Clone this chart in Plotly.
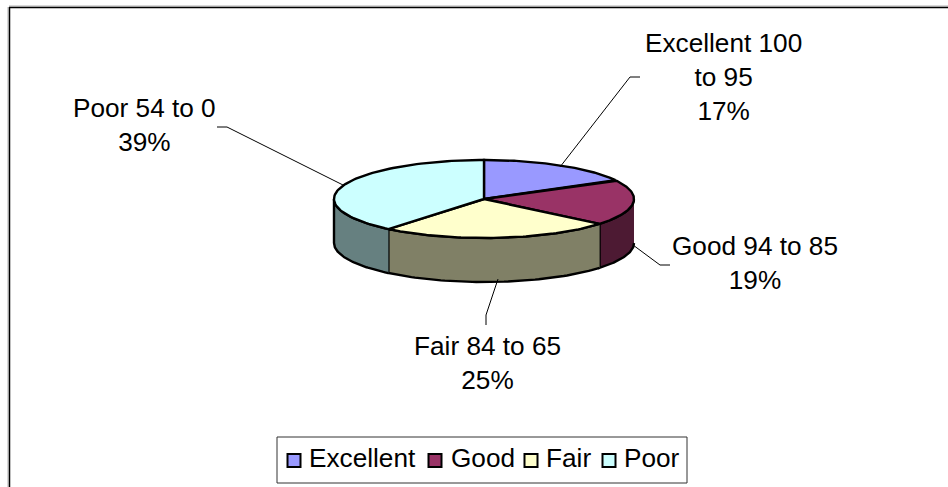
import numpy as np
import plotly.graph_objects as go

categories = ["Excellent", "Good", "Fair", "Poor"]
values = [17, 19, 25, 39]
label_lines = ["Excellent 100<br>to 95<br>17%", "Good 94 to 85<br>19%", "Fair 84 to 65<br>25%", "Poor 54 to 0<br>39%"]
top_colors = ["#9999FF", "#993366", "#FFFFCC", "#CCFFFF"]
side_colors = ["#4D4D80", "#4D1A33", "#808066", "#668080"]

W, H = 948, 487
CX, CY, RX, RY, DEPTH = 484, 199, 150, 39, 44
FONT = dict(family="Liberation Sans, Arial, sans-serif", size=26.2, color="black")

label_pos = [(723, 77), (755, 263), (487, 363), (144, 125)]
leaders = [
    [(560, 167), (630, 77), (640, 77)],
    [(633, 245), (660, 265), (670, 265)],
    [(498, 279), (486, 315), (486, 325)],
    [(343, 185), (227, 127), (217, 127)],
]
legend_box = (277, 437, 687, 483)
legend_swatch_x = [294, 435, 531, 609]
legend_text_x = [307, 449, 544, 622]
legend_swatch_y = 460.5
legend_text_y = 458


def pt(deg, dy=0):
    a = np.radians(deg)
    return CX + RX * np.sin(a), CY - RY * np.cos(a) + dy


fig = go.Figure()
line = dict(color="black", width=2.4)

cum = np.concatenate([[0], np.cumsum(values)]) / sum(values) * 360

# side walls, only the front half of the rim shows
for i in range(len(values)):
    a0, a1 = max(cum[i], 90), min(cum[i + 1], 270)
    if a1 <= a0:
        continue
    t = np.linspace(a0, a1, 60)
    xt, yt = pt(t)
    xb, yb = pt(t[::-1], DEPTH)
    fig.add_trace(go.Scatter(x=np.r_[xt, xb], y=np.r_[yt, yb], mode="lines", fill="toself",
                             fillcolor=side_colors[i], line=line, showlegend=False, hoverinfo="skip"))

# top face
for i in range(len(values)):
    t = np.linspace(cum[i], cum[i + 1], 80)
    xt, yt = pt(t)
    fig.add_trace(go.Scatter(x=np.r_[CX, xt, CX], y=np.r_[CY, yt, CY], mode="lines", fill="toself",
                             fillcolor=top_colors[i], line=line, showlegend=False, hoverinfo="skip",
                             name=categories[i]))

# leader lines
for pts in leaders:
    fig.add_trace(go.Scatter(x=[p[0] for p in pts], y=[p[1] for p in pts], mode="lines",
                             line=dict(color="black", width=1), showlegend=False, hoverinfo="skip"))

# legend, placed by hand because the native one cannot pack its entries this tightly
fig.add_shape(type="rect", x0=legend_box[0], y0=legend_box[1], x1=legend_box[2], y1=legend_box[3],
              line=dict(color="#333333", width=1), fillcolor="white", layer="below")
for name, col, sx, tx in zip(categories, top_colors, legend_swatch_x, legend_text_x):
    fig.add_trace(go.Scatter(x=[sx], y=[legend_swatch_y], mode="markers", name=name, showlegend=False,
                             marker=dict(symbol="square", size=13, color=col, line=dict(color="black", width=2))))
    fig.add_annotation(x=tx, y=legend_text_y, text=name, showarrow=False, font=FONT, xanchor="left", yanchor="middle")

for txt, (x, y) in zip(label_lines, label_pos):
    fig.add_annotation(x=x, y=y, text=txt, showarrow=False, font=FONT, xanchor="center", yanchor="middle", align="center")

# chart frame: top and left edges only are inside the crop
for x0, y0, x1, y1 in [(9, 6, W, 6), (8, 7, 8, H)]:
    fig.add_shape(type="line", x0=x0, y0=y0, x1=x1, y1=y1, line=dict(color="#B0B0B0", width=1))
for x0, y0, x1, y1 in [(9, 7.5, W, 7.5), (9.5, 7, 9.5, H)]:
    fig.add_shape(type="line", x0=x0, y0=y0, x1=x1, y1=y1, line=dict(color="black", width=1.5))

fig.update_layout(
    width=W, height=H, margin=dict(l=0, r=0, t=0, b=0),
    paper_bgcolor="white", plot_bgcolor="white",
    xaxis=dict(range=[0, W], visible=False, fixedrange=True),
    yaxis=dict(range=[H, 0], visible=False, fixedrange=True),
    font=FONT, showlegend=False,
)
fig.write_html("out.html", config={"displayModeBar": False},
               post_script="document.body.style.margin='0';document.documentElement.style.overflow='hidden';")
